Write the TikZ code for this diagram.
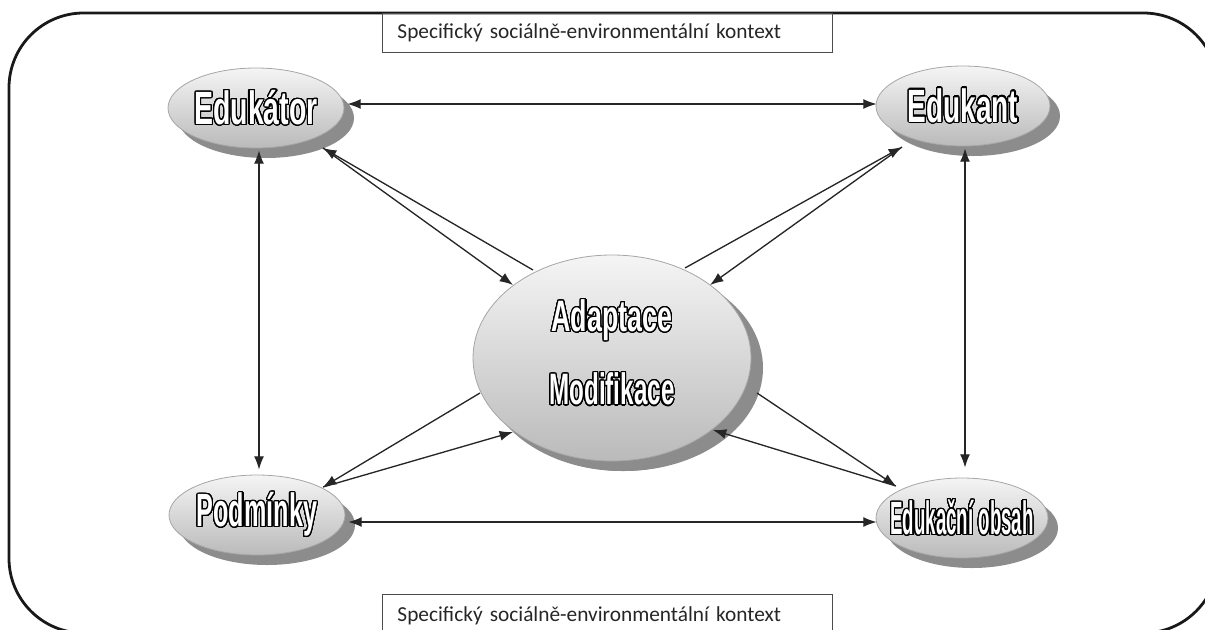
\documentclass[tikz,border=0pt]{standalone}
\usepackage{fontspec}
\setmainfont{Carlito}
\newfontfamily\condfont{Liberation Sans}
\usepackage{contour}
\contourlength{0.9pt}
\contournumber{32}
\usetikzlibrary{shapes.geometric,shadows,arrows.meta,calc}
\newcommand{\eltext}[2]{{\addfontfeature{FakeStretch=#1}\color{white}\contour{black}{#2}}}
\tikzset{
  ell/.style={ellipse, draw=black!35, line width=0.6pt, top color=black!4, bottom color=black!27,
    inner sep=0pt, general shadow={fill=black!45, shadow xshift=7.5pt, shadow yshift=-7.5pt},
    font=\condfont\bfseries\fontsize{35}{40}\selectfont},
  ctx/.style={draw=black!70, line width=0.7pt, anchor=north west, minimum width=337.5pt,
    minimum height=29.25pt, text width=315pt, inner xsep=11.25pt, inner ysep=0pt, align=left,
    font=\fontsize{16}{19}\selectfont, text=black!85},
  arr/.style={-{Latex[length=10pt,width=7.5pt]}, line width=1pt, draw=black!85},
  dbl/.style={{Latex[length=10pt,width=7.5pt]}-{Latex[length=10pt,width=7.5pt]}, line width=1pt, draw=black!85},
  outerframe/.style={line width=2.1pt, draw=black!90, rounded corners=56pt}
}
\begin{document}
\begin{tikzpicture}[x=0.75pt,y=-0.75pt]
\useasboundingbox (0,0) rectangle (1205,629);
\begin{scope}
\clip (0,0) rectangle (1205,629);
\draw[outerframe] (9,13) rectangle (1218,633);
\node[ctx] (ctxtop) at (382,13) {Specifický sociálně-environmentální kontext};
\node[ctx, minimum height=32pt] (ctxbot) at (382,594) {Specifický sociálně-environmentální kontext};

\node[ell, minimum width=132pt, minimum height=60pt] (edukator) at (256,108) {\makebox[0pt]{\eltext{0.61}{Edukátor}}};
\node[ell, minimum width=130.5pt, minimum height=60pt] (edukant) at (963,106) {\makebox[0pt]{\eltext{0.60}{Edukant}}};
\node[ell, minimum width=132pt, minimum height=60pt] (podminky) at (257,515) {\makebox[0pt]{\eltext{0.54}{Podmínky}}};
\node[ell, minimum width=129pt, minimum height=60pt] (obsah) at (962,518) {\makebox[0pt]{\raisebox{-4pt}{\eltext{0.40}{Edukační obsah}}}};
\node[ell, minimum width=208.5pt, minimum height=154.5pt, font=\condfont\bfseries\fontsize{33}{38}\selectfont,
  general shadow={fill=black!45, shadow xshift=9pt, shadow yshift=-7.5pt}] (center) at (612,358)
  {\makebox[0pt]{\begin{tabular}{@{}c@{}}\eltext{0.61}{Adaptace}\\[17pt]\eltext{0.55}{Modifikace}\end{tabular}}};

% straight links
\draw[dbl] ($(edukator.east)+(3,-4)$) -- ($(edukant.west)+(1,-2)$);
\draw[dbl] ($(edukator.south)+(3,2)$) -- ($(podminky.north)+(2,-5)$);
\draw[dbl] ($(edukant.south)+(2,2)$) -- ($(obsah.north)+(3,-10)$);
\draw[dbl] ($(podminky.east)+(3,7)$) -- ($(obsah.west)+(1,4)$);

% diagonal links
\coordinate (tE) at (323,148);
\coordinate (cE1) at (533,270);
\coordinate (cE2) at (513,285);
\coordinate (tK) at (902,147);
\coordinate (cK1) at (685,268);
\coordinate (cK2) at (710,285);
\coordinate (tP) at (323,487);
\coordinate (cP1) at (480,393);
\coordinate (cP2) at (513,432);
\coordinate (tO) at (896,486);
\coordinate (cO1) at (757,393);
\coordinate (cO2) at (713,430);
\draw[arr] (cE1) -- (tE);
\draw[arr] (tE) -- (cE2);
\draw[arr] (cK1) -- (tK);
\draw[arr] (tK) -- (cK2);
\draw[arr] (cP1) -- (tP);
\draw[arr] (tP) -- (cP2);
\draw[arr] (cO1) -- (tO);
\draw[arr] (tO) -- (cO2);
\end{scope}
\end{tikzpicture}
\end{document}
